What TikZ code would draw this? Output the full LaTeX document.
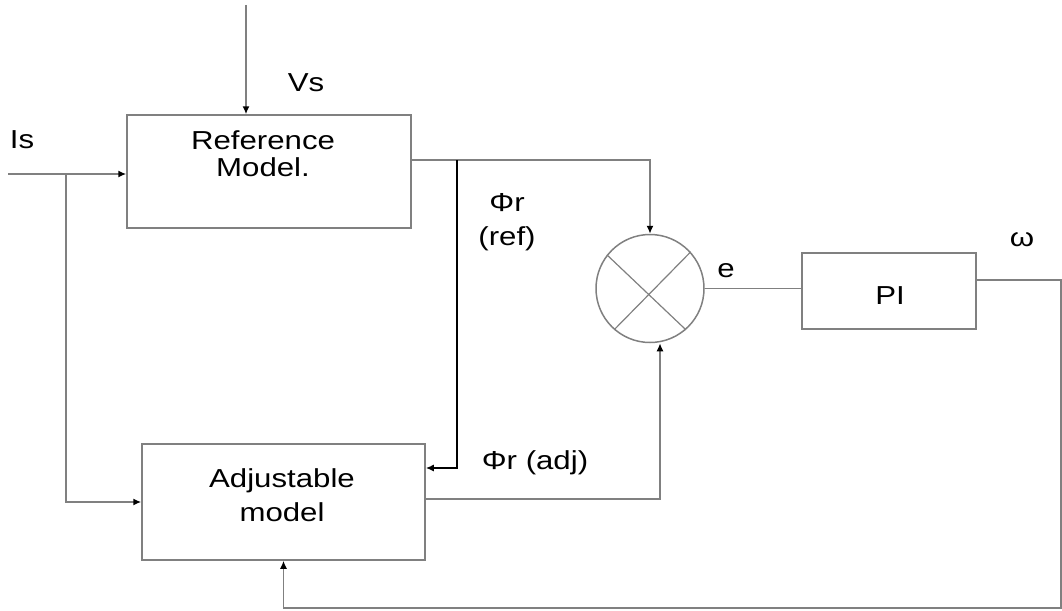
\documentclass[tikz,border=0pt]{standalone}
\usepackage{fontspec}
\setmainfont{Liberation Sans}[FakeStretch=1.2]
\usetikzlibrary{arrows.meta}
\definecolor{linegray}{gray}{0.5}
\begin{document}
\begin{tikzpicture}[x=1pt,y=-1pt,
  line/.style={draw=linegray, line width=1.5pt},
  arr/.style={line, -{Latex[length=8pt,width=7pt,color=black]}},
  arrblack/.style={draw=black, line width=2.4pt, -{Latex[length=8pt,width=7pt,color=black]}},
  box/.style={draw=linegray, line width=1.5pt, rectangle, inner sep=0pt},
  lab/.style={font=\fontsize{26}{27}\selectfont, inner sep=0pt, align=center}]
\useasboundingbox (0,0) rectangle (1062,610);

% blocks
\node[box, minimum width=284pt, minimum height=113pt] (ref) at (269,171.5) {};
\node[box, minimum width=283pt, minimum height=116pt] (adj) at (283.5,502) {};
\node[box, minimum width=174pt, minimum height=76pt] (pi) at (889,291) {};
\node[draw=linegray, line width=1.5pt, circle, minimum size=108pt, inner sep=0pt] (sum) at (650,288.5) {};
\draw[line, line width=1.2pt] (sum.142) -- (sum.-49);
\draw[line, line width=1.2pt] (sum.42) -- (sum.229);

% texts
\node[lab] (reft) at (263,154) {Reference\\Model.};
\node[lab, font=\fontsize{26}{34}\selectfont] (adjt) at (282,495) {Adjustable\\model};
\node[lab] (pit) at (890,296) {PI};
\node[lab] (vs) at (306,83) {Vs};
\node[lab] (is) at (22,140) {Is};
\node[lab, font=\fontsize{26}{34}\selectfont] (phiref) at (507,222) {Φr\\(ref)};
\node[lab] (phiadj) at (535,463) {Φr (adj)};
\node[lab] (e) at (726,271) {e};
\node[lab] (w) at (1022,240) {ω};

% free ends and corners
\coordinate (vsin) at (246,5);
\coordinate (isin) at (8,174);
\coordinate (isb) at (66,174);
\coordinate (br) at (457,160);
\coordinate (fb) at (1061,608);

% connectors
\draw[arr] (vsin) -- (vsin |- ref.north);
\draw[arr] (isin) -- (isin -| ref.west);
\draw[arr] (isb) |- (adj.west);
\draw[arr] (ref.east |- br) -| (sum.north);
\draw[arrblack] (br) |- ([yshift=34pt]adj.east);
\draw[arr] ([yshift=3pt]adj.east) -| ([xshift=10pt]sum.south);
\draw[line] (sum.east) -- (pi.west |- sum.east);
\draw[arr] ([yshift=11pt]pi.east) -| (fb) -| (adj.south);
\end{tikzpicture}
\end{document}
